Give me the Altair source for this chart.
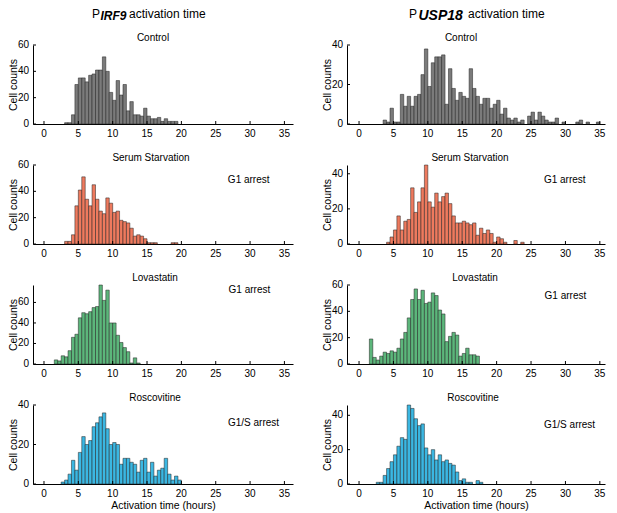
import altair as alt
import pandas as pd

FONT = "Liberation Sans"
BIN = 0.5
XTICKS = [0, 5, 10, 15, 20, 25, 30, 35]

# ---------------- P_IRF9 (left column) ----------------
irf9_control_start = 3.0
irf9_control = [1, 1, 7, 30, 35, 35, 32, 37, 38, 41, 41, 51, 40, 24, 18, 33, 22, 30, 10, 17,
                7, 7, 6, 12, 6, 4, 4, 5, 2, 4, 2, 2, 2]
irf9_serum_start = 3.0
irf9_serum = [2, 2, 7, 29, 41, 51, 34, 29, 45, 34, 25, 23, 35, 31, 24, 25, 18, 17, 16, 12,
              6, 7, 6, 4, 1, 1, 1, 0, 0, 0, 0, 1, 1]
irf9_lova_start = 1.5
irf9_lova = [4, 3, 8, 7, 13, 26, 29, 45, 50, 49, 51, 55, 56, 77, 62, 72, 40, 40, 28, 21,
             16, 12, 1, 6, 1]
irf9_rosc_start = 2.5
irf9_rosc = [1, 2, 5, 12, 7, 16, 24, 20, 22, 29, 31, 34, 36, 28, 20, 21, 20, 10, 13, 13,
             11, 10, 6, 12, 13, 6, 11, 4, 7, 8, 13, 5, 2, 4, 2]

# ---------------- P_USP18 (right column) ----------------
usp18_control_start = 3.5
usp18_control = [2, 1, 8, 1, 1, 15, 9, 14, 9, 14, 15, 25, 38, 19, 31, 34, 34, 35, 10, 28,
                 18, 12, 16, 14, 13, 28, 18, 14, 10, 13, 13, 8, 10, 12, 5, 8, 3, 2, 3, 1,
                 2, 0, 4, 6, 2, 6, 4, 2, 1, 1, 3, 0, 1, 0, 0, 0, 1, 2, 0, 1, 0, 0, 1]
usp18_serum_start = 4.0
usp18_serum = [1, 4, 8, 16, 8, 13, 14, 32, 18, 24, 32, 45, 24, 21, 29, 24, 27, 29, 23, 16,
               12, 12, 13, 12, 11, 12, 5, 9, 6, 8, 6, 1, 4, 3, 1, 0, 0, 2, 0, 1]
usp18_lova_start = 1.5
usp18_lova = [19, 5, 3, 6, 9, 8, 10, 9, 12, 19, 24, 35, 49, 57, 49, 56, 46, 47, 54, 52,
              41, 38, 17, 21, 24, 22, 6, 8, 12, 7, 7, 6]
usp18_rosc_start = 2.5
usp18_rosc = [1, 1, 5, 9, 13, 17, 22, 27, 26, 46, 44, 38, 34, 35, 21, 17, 20, 14, 17, 13,
              14, 12, 11, 7, 2, 3, 1, 1, 0, 2, 1]

# panel titles, annotations, axis tops
titles = ["Control", "Serum Starvation", "Lovastatin", "Roscovitine"]
arrest = [None, "G1 arrest", "G1 arrest", "G1/S arrest"]
irf9_ymax = [60, 60, 77, 40]
irf9_yticks = [[0, 20, 40, 60], [0, 20, 40, 60], [0, 20, 40, 60], [0, 20, 40]]
irf9_ann = [None, (29.8, 48.6), (29.9, 72), (30.5, 30.9)]
usp18_ymax = [40, 45, 60, 46]
usp18_yticks = [[0, 20, 40], [0, 20, 40], [0, 20, 40, 60], [0, 20, 40]]
usp18_ann = [None, (29.9, 36.5), (30.0, 52), (30.6, 34.5)]

gray, orange, green, blue = "#7b7b7b", "#ee7a5e", "#5cb67b", "#3bb7e2"
colors = [gray, orange, green, blue]

LW, RW, H = 260, 258, 79
LDOM, RDOM = [-1.6, 36.25], [-1.75, 35.75]


def text_layer(txt, xp, yp, size=12, weight="normal", style="normal", align="left"):
    d = pd.DataFrame({"t": [txt]})
    return alt.Chart(d).mark_text(
        font=FONT, fontSize=size, fontWeight=weight, fontStyle=style,
        align=align, baseline="alphabetic", color="black"
    ).encode(x=alt.value(xp), y=alt.value(yp), text="t:N")


def panel(start, counts, color, ymax, yticks, xdom, width, title, title_dx,
          ann=None, ann_text=None, bottom=False, header=None):
    x0 = [start + BIN * i for i in range(len(counts))]
    df = pd.DataFrame({"x0": x0, "x1": [v + BIN for v in x0], "count": counts})
    df = df[df["count"] > 0]
    xscale = alt.Scale(domain=xdom, nice=False, zero=False)
    yscale = alt.Scale(domain=[0, ymax], nice=False, zero=True)
    xkw = dict(ticks=False, labels=False, grid=False, domainColor="black")
    if bottom:
        xkw.update(title="Activation time (hours)", titleFont=FONT, titleFontSize=10.5,
                   titleFontWeight="normal", titleColor="black", titlePadding=16)
    else:
        xkw.update(title=None)
    xaxis = alt.Axis(**xkw)
    yaxis = alt.Axis(ticks=False, labels=False, grid=False, domainColor="black",
                     title="Cell counts", titleFont=FONT,
                     titleFontSize=10.5, titleFontWeight="normal", titleColor="black",
                     titlePadding=15)
    bars = alt.Chart(df).mark_rect(fill=color, stroke="#1e1e1e", strokeWidth=0.5).encode(
        x=alt.X("x0:Q", scale=xscale, axis=xaxis),
        x2="x1",
        y=alt.Y("count:Q", scale=yscale, axis=yaxis),
        y2=alt.datum(0),
    )
    xt = pd.DataFrame({"v": XTICKS, "lab": [str(v) for v in XTICKS]})
    xtick = alt.Chart(xt).mark_rule(color="black", strokeWidth=1).encode(
        x=alt.X("v:Q", scale=xscale, axis=xaxis),
        y=alt.value(H), y2=alt.value(H - 3))
    xlab = alt.Chart(xt).mark_text(font=FONT, fontSize=10, color="black",
                                   baseline="top", align="center").encode(
        x=alt.X("v:Q", scale=xscale, axis=xaxis),
        y=alt.value(H + 5), text="lab:N")
    yt = pd.DataFrame({"v": yticks, "lab": [str(v) for v in yticks]})
    ytick = alt.Chart(yt).mark_rule(color="black", strokeWidth=1).encode(
        y=alt.Y("v:Q", scale=yscale, axis=yaxis),
        x=alt.value(0), x2=alt.value(3))
    ylab = alt.Chart(yt).mark_text(font=FONT, fontSize=10, color="black",
                                   baseline="middle", align="right").encode(
        y=alt.Y("v:Q", scale=yscale, axis=yaxis),
        x=alt.value(-4), text="lab:N")
    layers = [bars, xtick, ytick, xlab, ylab]
    if ann is not None:
        adf = pd.DataFrame({"x": [ann[0]], "y": [ann[1]], "t": [ann_text]})
        layers.append(alt.Chart(adf).mark_text(
            font=FONT, fontSize=10, color="black", baseline="middle").encode(
            x=alt.X("x:Q", scale=xscale, axis=xaxis),
            y=alt.Y("y:Q", scale=yscale, axis=yaxis),
            text="t:N"))
    layers.append(text_layer(title, width / 2 + title_dx, -4, size=10, align="center"))
    if header is not None:
        layers.extend(header)
    return alt.layer(*layers).properties(width=width, height=H)


hdr_y = -27
left_header = [text_layer("P", 59, hdr_y),
               text_layer("IRF9", 67.5, hdr_y + 2, weight="bold", style="italic"),
               text_layer("activation time", 96, hdr_y)]
right_header = [text_layer("P", 62, hdr_y),
                text_layer("USP18", 71.5, hdr_y + 2, size=14, weight="bold", style="italic"),
                text_layer("activation time", 121, hdr_y)]

irf9_data = [(irf9_control_start, irf9_control), (irf9_serum_start, irf9_serum),
             (irf9_lova_start, irf9_lova), (irf9_rosc_start, irf9_rosc)]
usp18_data = [(usp18_control_start, usp18_control), (usp18_serum_start, usp18_serum),
              (usp18_lova_start, usp18_lova), (usp18_rosc_start, usp18_rosc)]

left_dx = [-10, -12, -8, -8]
right_dx = [-15, -6, -1, -3]

panels = []
for i in range(4):
    panels.append(panel(irf9_data[i][0], irf9_data[i][1], colors[i], irf9_ymax[i],
                        irf9_yticks[i], LDOM, LW, titles[i], left_dx[i],
                        ann=irf9_ann[i], ann_text=arrest[i], bottom=(i == 3),
                        header=left_header if i == 0 else None))
    panels.append(panel(usp18_data[i][0], usp18_data[i][1], colors[i], usp18_ymax[i],
                        usp18_yticks[i], RDOM, RW, titles[i], right_dx[i],
                        ann=usp18_ann[i], ann_text=arrest[i], bottom=(i == 3),
                        header=right_header if i == 0 else None))

chart = alt.concat(*panels, columns=2, spacing={"row": 41, "column": 54},
                   bounds="flush").properties(
    padding=0, background="white"
).configure_view(stroke=None)

chart.save("out.html", embed_options={"renderer": "svg", "actions": False})
